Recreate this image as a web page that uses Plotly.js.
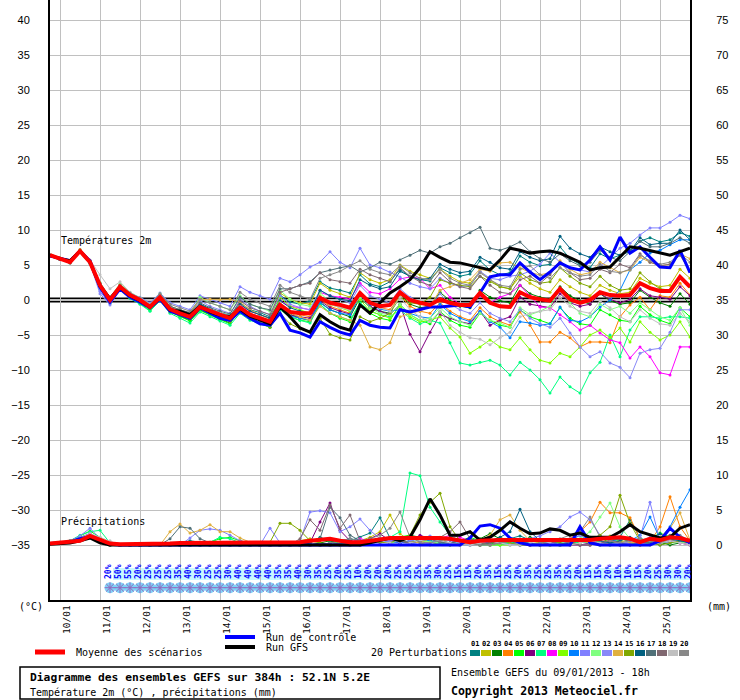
<!DOCTYPE html>
<html>
<head>
<meta charset="utf-8">
<script src="https://cdn.plot.ly/plotly-3.0.1.min.js"></script>
<style>
body{margin:0;background:#fff}
#plot{width:740px;height:700px}
</style>
</head>
<body>
<div id="plot"></div>
<script>
// time steps of the GEFS run, hours after 09/01 18h
var hours = [];
for (var h = 0; h <= 384; h += 6) hours.push(h);

var dayHours = [6, 30, 54, 78, 102, 126, 150, 174, 198, 222, 246, 270, 294, 318, 342, 366];
var dayLabels = ['10/01','11/01','12/01','13/01','14/01','15/01','16/01','17/01','18/01','19/01','20/01','21/01','22/01','23/01','24/01','25/01'];
var tempTicks = [-35,-30,-25,-20,-15,-10,-5,0,5,10,15,20,25,30,35,40];
var precTicks = [0,5,10,15,20,25,30,35,40,45,50,55,60,65,70,75];

var memberColors = ['#008080','#c0c000','#008000','#ff8000','#00ff00','#800080','#00ff80','#ff00ff','#80ff00','#0080ff',
                    '#8080ff','#80ff80','#8888f8','#e0b040','#80a800','#006080','#507078','#806870','#c0c0c0','#888888'];

// temperature 2m, 20 perturbations
var t01 = [6.4,5.9,5.5,7.1,5.5,2.4,0.3,2.0,0.9,0.2,-0.8,0.6,-1.1,-1.6,-2.1,-0.6,-1.3,-1.8,-2.2,-0.4,-1.4,-1.8,-2.4,0.7,-0.3,-0.6,-0.1,2.6,1.7,1.4,1.0,3.6,2.3,1.9,2.6,4.4,3.3,2.9,2.7,4.6,3.9,3.4,3.7,5.6,4.3,3.6,3.9,6.3,5.4,4.9,5.1,7.6,5.9,5.1,4.6,6.6,5.9,6.4,7.1,8.4,8.9,8.3,8.6,9.6,9.1];
var t02 = [6.3,5.8,5.3,6.9,5.3,2.0,-0.2,1.7,0.5,-0.2,-1.2,0.2,-1.5,-2.1,-2.6,-1.1,-1.9,-2.4,-2.9,-0.6,-1.6,-2.1,-2.7,1.0,0.1,-0.4,-0.6,2.4,1.4,0.9,0.4,3.9,2.9,2.4,2.9,5.0,4.1,3.6,3.1,4.4,3.4,2.6,2.4,4.1,2.9,1.9,1.6,3.4,2.4,1.6,1.1,2.9,1.9,1.1,0.6,2.1,1.4,0.9,1.1,3.1,2.4,1.9,2.1,4.4,3.1];
var t03 = [6.4,5.9,5.4,7.0,5.4,1.9,-0.2,1.7,0.4,-0.3,-1.3,0.1,-1.6,-2.3,-2.9,-1.4,-2.1,-2.7,-3.3,-1.1,-2.3,-2.9,-3.6,-0.9,-2.1,-2.6,-2.9,-0.3,-1.4,-1.9,-2.4,0.3,-1.1,-1.6,-1.9,0.9,-0.6,-1.1,-0.9,1.1,-0.1,-0.9,-1.1,1.4,0.4,-0.1,-0.4,2.1,0.9,0.4,0.1,1.9,0.6,-0.1,-0.6,0.9,-0.1,-0.6,-0.4,1.4,0.4,-0.4,-0.9,0.9,-0.6];
var t04 = [6.5,6.0,5.6,7.2,5.6,2.3,0.2,2.2,0.9,0.1,-0.9,0.6,-1.2,-1.8,-2.2,-0.8,-1.4,-1.9,-2.4,-0.9,-1.9,-2.4,-2.9,-0.6,-1.6,-2.1,-2.4,0.1,-0.9,-1.4,-1.9,0.9,-0.6,-1.1,-1.4,0.6,-0.9,-1.6,-1.9,-0.4,-1.6,-2.4,-2.9,-1.1,-2.4,-3.1,-3.6,-1.7,-3.6,-6.0,-6.0,-4.6,-5.4,-6.7,-6.0,-6.0,-6.1,-2.4,-0.7,0.4,-1.4,0.6,0.4,2.4,0.7];
var t05 = [6.4,5.8,5.4,7.1,5.3,1.8,-0.4,1.6,0.3,-0.5,-1.5,0.0,-1.7,-2.4,-3.0,-1.5,-2.2,-2.8,-3.4,-1.3,-2.6,-3.3,-3.9,-1.1,-2.4,-2.9,-3.1,-0.6,-1.9,-2.6,-3.1,-0.4,-1.9,-2.6,-2.9,-0.6,-2.1,-2.9,-3.4,-1.6,-2.9,-3.6,-3.9,-1.9,-2.9,-3.6,-3.9,-1.4,-2.4,-2.9,-3.4,-1.1,-2.6,-3.4,-3.6,-1.4,-2.1,-2.9,-3.1,-0.9,-2.1,-2.9,-3.4,-1.1,-2.4];
var t06 = [6.3,5.8,5.4,6.9,5.4,2.0,-0.1,1.8,0.5,-0.2,-1.1,0.3,-1.4,-2.0,-2.6,-1.2,-1.8,-2.3,-2.8,-1.3,-2.3,-2.9,-3.4,-1.0,-2.1,-2.4,-2.6,-0.1,-1.1,-1.6,-2.0,0.4,-0.9,-1.6,-2.1,-0.6,-4.9,-7.4,-4.6,-2.1,-2.6,-3.1,-3.4,-1.6,-3.6,-2.9,-2.4,0.4,-0.6,-0.9,-1.1,0.9,-0.4,-0.9,-0.6,0.9,0.1,-0.4,0.1,1.6,0.6,0.4,0.1,1.9,0.6];
var t07 = [6.4,5.8,5.3,6.9,5.2,1.7,-0.5,1.5,0.2,-0.6,-1.6,-0.1,-1.9,-2.6,-3.3,-1.7,-2.4,-3.0,-3.6,-1.9,-2.9,-3.4,-3.9,-1.4,-2.4,-2.9,-3.3,-0.6,-1.9,-2.4,-2.9,-0.4,-1.6,-2.1,-2.4,-1.4,-2.6,-3.4,-2.9,-3.3,-6.1,-9.0,-9.3,-8.9,-8.6,-9.3,-10.7,-8.9,-10.0,-11.4,-13.3,-11.0,-12.4,-13.3,-10.4,-8.9,-5.0,-8.1,-4.3,-2.4,-2.4,-2.6,-2.4,-2.4,-2.6];
var t08 = [6.4,5.9,5.5,7.0,5.5,2.1,0.1,2.0,0.8,0.1,-0.9,0.5,-1.1,-1.7,-2.2,-0.9,-1.5,-2.0,-2.4,-0.7,-1.6,-2.1,-2.6,-0.1,-0.9,-1.1,-1.4,1.1,0.6,0.4,0.1,2.4,1.1,0.9,1.6,3.0,3.3,3.1,1.6,2.1,0.4,-0.6,-0.9,0.6,-0.4,0.4,0.9,2.1,0.6,-1.0,-1.1,-2.1,-3.1,-4.3,-3.6,-4.7,-5.7,-6.1,-8.3,-6.7,-8.1,-10.4,-10.7,-6.7,-6.7];
var t09 = [6.5,6.0,5.6,7.1,5.6,2.3,0.1,2.1,0.8,0.0,-0.9,0.5,-1.2,-1.8,-2.3,-0.9,-1.6,-2.1,-2.7,-1.0,-2.0,-2.6,-3.1,0.4,-0.9,-1.4,-1.9,0.6,-0.6,-1.1,-1.6,0.1,-1.6,-2.1,-2.6,-0.9,-2.4,-3.1,-2.9,-2.4,-4.0,-5.3,-7.6,-6.7,-5.7,-6.7,-7.1,-5.4,-7.1,-8.6,-9.0,-7.6,-8.1,-6.7,-5.0,-4.3,-5.4,-4.0,-6.0,-3.1,-4.6,-5.7,-5.0,-3.1,-5.3];
var t10 = [6.3,5.8,5.4,6.9,5.4,2.0,-0.1,1.9,0.6,-0.1,-1.1,0.3,-1.4,-2.0,-2.5,-1.1,-1.7,-2.3,-2.7,-1.3,-2.4,-2.9,-3.4,-1.1,-2.3,-2.6,-2.9,-0.4,-1.4,-1.9,-2.1,0.6,-0.6,-1.3,-1.6,-1.4,-1.9,-2.4,-2.6,-0.6,-1.9,-2.6,-3.1,-1.6,-3.1,-3.9,-5.4,-3.1,-3.3,-3.6,-3.4,-1.0,-2.9,-3.1,-2.4,-1.0,0.0,1.4,4.3,5.4,6.7,7.1,7.9,8.6,8.6];
var t11 = [6.4,5.9,5.5,7.0,5.5,1.2,-0.5,1.9,0.9,0.4,-0.4,1.0,-0.4,-0.9,-1.4,0.6,0.1,-0.4,-0.9,1.9,1.1,0.6,0.1,3.1,2.6,3.6,4.7,5.4,6.9,5.4,4.6,7.4,5.0,4.6,4.0,3.3,2.4,1.9,1.6,3.1,2.4,1.9,2.1,4.1,3.1,2.9,3.4,3.6,4.1,5.1,6.7,5.4,4.6,4.3,4.0,4.7,6.1,7.4,8.1,9.3,10.3,10.3,11.1,12.1,11.6];
var t12 = [6.5,6.0,5.6,7.2,5.6,2.5,0.4,2.3,1.1,0.3,-0.6,0.9,-0.9,-1.4,-1.9,0.4,-0.4,-0.9,-1.4,0.6,-0.6,-1.1,-1.6,1.4,0.1,-0.6,-0.9,1.1,-0.4,-0.9,-1.4,0.4,-1.1,-1.9,-2.1,-0.6,-2.1,-2.9,-2.6,-1.1,-2.4,-3.1,-3.6,-1.9,-2.9,-3.3,-3.9,-1.1,-2.1,-1.6,-0.9,1.4,-0.4,-1.9,-2.4,-0.6,-1.4,-0.9,-1.9,-0.4,-1.4,-2.4,-2.9,-1.1,-3.6];
var t13 = [6.3,5.8,5.3,6.8,5.2,0.9,-0.7,1.6,0.6,0.0,-0.9,0.6,-0.9,-1.4,-1.9,-0.1,-0.9,-1.4,-1.9,0.1,-0.9,-1.6,-2.1,0.6,-0.6,-1.1,-1.4,1.4,0.6,0.1,-0.4,2.1,0.6,0.1,-0.4,1.6,0.4,-0.4,-0.9,0.9,-0.6,-1.4,-1.9,-0.4,-1.9,-2.6,-3.1,-1.4,-2.6,-3.4,-3.9,-2.6,-4.7,-6.7,-8.1,-7.4,-9.0,-9.6,-11.1,-7.6,-7.1,-6.9,-4.6,-1.4,-1.4];
var t14 = [6.4,5.9,5.4,7.0,5.5,2.2,0.2,2.0,0.9,0.2,-0.6,0.7,-0.9,-1.4,-1.9,0.1,0.1,0.0,0.1,-0.3,-1.4,-2.1,-2.6,-0.4,-1.9,-2.4,-2.9,-0.9,-1.9,-2.4,-2.9,-3.6,-6.7,-7.1,-6.1,-2.4,-1.9,-1.6,-0.9,1.4,1.9,2.4,2.9,4.4,4.1,5.3,5.4,4.6,3.9,3.6,3.9,5.6,4.4,3.6,3.9,5.4,4.6,3.9,4.3,6.1,5.4,4.9,5.1,6.6,5.9];
var t15 = [6.4,5.9,5.4,7.0,5.4,2.0,-0.2,1.8,0.5,-0.2,-1.1,0.2,-1.6,-2.1,-2.6,-1.1,-1.9,-2.6,-3.1,-1.4,-2.6,-3.3,-3.9,-1.9,-3.4,-4.1,-4.6,-2.6,-4.9,-5.4,-5.7,-2.4,-3.1,-2.6,-1.9,0.4,-0.4,-0.6,0.4,2.9,2.4,2.1,1.9,3.4,2.6,1.9,1.6,3.9,2.9,2.4,2.6,4.6,3.4,2.4,1.9,3.4,2.1,1.4,1.6,3.9,2.6,1.6,1.4,3.1,1.9];
var t16 = [6.4,5.9,5.5,7.0,5.4,2.1,0.1,1.9,0.7,0.0,-0.9,0.6,-1.1,-1.6,-2.1,-0.6,-1.3,-1.9,-2.4,-0.6,-1.6,-2.1,-2.6,-0.1,-1.1,-1.6,-1.9,1.4,0.6,0.1,-0.1,2.9,2.1,1.6,1.9,4.1,3.4,2.9,3.1,5.1,4.4,3.9,4.1,6.1,5.4,4.6,4.4,6.9,6.1,5.6,5.9,9.1,7.4,6.6,6.1,7.6,6.9,6.4,6.9,8.9,7.9,8.1,8.1,10.0,8.6];
var t17 = [6.4,5.9,5.4,7.0,5.4,2.3,0.3,2.1,0.8,0.2,-0.7,0.7,-0.9,-1.4,-1.8,-0.4,-1.1,-1.6,-2.0,0.4,-0.6,-1.1,-1.4,1.6,1.6,2.1,2.6,3.9,4.3,4.6,4.9,4.0,4.6,5.4,5.1,5.7,6.4,7.1,6.7,7.6,8.1,8.9,9.6,10.4,7.4,7.1,7.6,8.3,6.9,5.9,5.4,6.6,5.6,4.9,5.4,7.1,6.1,5.6,6.9,8.4,7.6,7.6,8.1,8.9,8.1];
var t18 = [6.4,5.9,5.5,7.0,5.5,2.2,0.1,1.9,0.8,0.1,-0.9,0.4,-1.2,-1.8,-2.3,-0.9,-1.5,-2.0,-2.4,-0.1,-1.1,-1.6,-2.1,1.1,1.6,2.1,2.4,3.9,2.9,2.6,2.4,4.4,3.6,3.1,2.6,4.6,3.4,2.6,2.1,3.9,2.6,1.9,1.6,3.4,2.1,1.1,0.9,2.9,3.4,2.4,3.6,5.4,3.9,2.9,3.1,4.4,3.9,5.1,4.6,6.6,5.4,4.9,5.1,6.4,4.1];
var t19 = [6.5,6.0,5.6,7.1,5.7,3.6,1.6,2.6,1.1,0.3,-0.6,0.6,-1.1,-1.6,-2.1,-0.9,-1.4,-1.9,-2.3,-0.9,-1.9,-2.4,-2.9,-0.4,-1.6,-1.9,-2.1,0.4,-0.6,-1.1,-1.4,1.1,-0.4,-1.1,-1.6,0.4,-1.4,-2.4,-3.1,-1.6,-3.6,-4.6,-5.4,-5.6,-6.4,-5.4,-4.6,-2.4,-1.9,-1.6,-1.4,0.4,-0.9,-1.6,-1.9,-0.1,-1.1,-2.4,-3.1,-1.4,-2.6,-3.4,-3.6,-1.9,-3.1];
var t20 = [6.4,5.9,5.5,7.0,5.5,2.4,0.4,2.1,1.0,0.3,-0.7,0.9,-0.6,-1.1,-1.6,0.1,-0.4,-0.9,-1.4,1.1,0.1,-0.4,-0.9,2.1,1.1,0.6,0.1,3.1,3.6,4.1,4.9,5.6,4.4,3.9,3.6,4.9,3.9,3.1,2.9,4.4,3.1,2.4,2.1,3.9,2.9,2.1,1.9,4.4,4.9,3.6,3.1,4.6,3.9,3.4,3.6,5.1,4.1,3.9,4.4,6.4,5.6,5.1,5.4,6.6,5.4];
// control run, GFS run, ensemble mean
var tControl = [6.3,5.9,5.6,7.0,5.6,1.8,-0.3,1.6,0.4,-0.3,-1.1,0.1,-1.6,-2.1,-2.6,-1.1,-1.9,-2.6,-2.9,-1.6,-2.6,-3.4,-3.6,-1.9,-4.3,-4.7,-5.3,-3.1,-3.9,-4.6,-5.0,-2.9,-3.6,-3.9,-4.0,-1.4,-1.7,-1.4,-1.0,-1.0,-0.9,-0.7,-1.0,1.0,3.3,3.6,3.6,5.3,4.0,2.9,4.0,5.3,4.6,4.3,5.7,7.6,5.7,9.0,6.7,7.6,6.1,4.7,4.6,7.1,3.9];
var tGfs = [6.4,5.9,5.6,7.0,5.4,2.0,0.2,1.8,0.6,-0.1,-1.0,0.3,-1.4,-1.6,-2.1,-0.9,-1.7,-2.2,-2.4,-1.3,-2.3,-2.9,-3.4,-1.0,-2.4,-4.0,-4.6,-2.1,-3.1,-3.9,-4.3,-0.7,-1.9,-0.4,1.0,1.9,2.9,4.6,6.9,6.1,5.4,5.3,5.0,4.6,4.3,5.7,7.4,7.1,6.7,6.9,7.0,6.7,6.1,5.4,4.3,4.6,4.7,6.1,7.6,7.4,7.1,6.7,6.4,6.9,7.4];
var tMean = [6.4,5.9,5.4,7.0,5.4,2.1,0.0,1.9,0.7,0.0,-1.0,0.4,-1.3,-1.9,-2.4,-1.0,-1.6,-2.1,-2.6,-1.1,-2.1,-2.6,-3.1,-0.7,-1.7,-1.9,-1.9,0.3,-0.4,-0.7,-1.1,1.0,-0.4,-0.9,-0.7,1.1,0.0,-0.4,-0.7,0.1,-0.4,-0.7,-0.7,1.0,-0.4,-0.9,-1.0,1.1,0.4,0.1,-0.1,1.6,0.1,-0.4,0.0,1.1,0.7,0.6,0.7,2.4,1.7,1.3,1.3,3.3,1.9];

// precipitation (mm per 6h), 20 perturbations
var p01 = [0.2,0.3,0.4,1.0,1.4,0.7,0.1,0,0,0, 0,0,0,0.3,0.6,0.4,0.3,0.1,0,0, 0,0,0,0,0,0,0.4,1.1,0.6,0.3, 0.6,1.1,1.7,3.9,1.0,0.4,0.3,0.6,0.9,0.4, 0.3,0,0,0.3,0.4,0.6,0.9,1.3,0.7,0.3, 0,0,0.3,0.6,0.3,0,0.4,1.1,3.6,1.0, 0.3,0,0.4,0.7,0.3];
var p02 = [0.1,0.3,0.4,0.8,1.2,0.5,0,0,0,0, 0,0,0,0,0.3,0.3,0,0,0,0, 0,0,0,0,0.3,0.6,0.9,0.4,0,0, 0.3,0.6,1.1,1.9,4.3,1.6,0.6,0.3,0,0.4, 0.9,0.4,0,0,0.6,1.1,0.6,0.3,0,0, 0.4,0.7,0.3,0,0,0.6,1.3,0.9,0.4,0, 0,0.6,1.4,0.7,0.3];
var p03 = [0.2,0.3,0.5,1.1,1.6,0.9,0.1,0,0,0, 0,0,0,0,0,0,0,0,0,0, 0,0,0,0,0,0,0,0.3,0.6,0.3, 0,0.4,0.9,0.6,0.3,0.9,1.4,1.1,0.6,0.3, 0,0,0.4,0.9,1.6,0.9,0.4,0.3,1.1,0.6, 0.3,0,0,0.4,0.9,0.4,0,0,0.3,0.6, 0.9,0.4,0,0.3,0];
var p04 = [0.2,0.3,0.4,0.9,1.3,0.6,0.1,0,0,0, 0,0,0,0,0,0,0.3,0.4,0.3,0, 0,0,0,0,0,0,0,0,0,0, 0,0.3,0.6,0.9,0.4,0.3,0.6,1.0,0.6,0.3, 0.3,0.6,0.4,0,0,0.3,0.6,0.4,0,0, 0.3,0.4,0.9,1.9,3.3,6.1,4.6,4.6,3.9,0.9, 0.4,2.6,6.9,2.6,0.6];
var p05 = [0.2,0.4,0.6,1.3,2.0,1.1,0.1,0,0,0, 0,0,0,0,0,0.3,0.4,0.9,1.1,0.6, 0.3,0,0,0,0,0,0,0,0,0.3, 0.6,0.3,0.4,0.6,0.9,1.1,1.4,0.9,0.6,0.3, 0.3,0.6,1.1,0.6,0.3,0,0.4,0.6,0.3,0, 0,0,0.3,0.6,0.4,0.3,0.9,0.6,0.3,0.4, 0.9,1.7,1.1,0.6,0.3];
var p06 = [0.2,0.3,0.4,0.9,1.3,0.6,0,0,0,0, 0,0,0,0,0,0,0,0,0,0, 0,0,0,0,0,0,0.3,3.3,6.0,2.1, 0.6,0.3,0.9,1.6,0.6,0.3,0.6,1.4,0.9,0.4, 0.3,0.6,0.3,0,0,0.4,0.3,0,0,0.3, 0.6,0.3,0,0,0.3,0.4,0.3,0,0,0, 0.3,0.6,0.9,0.4,0.3];
var p07 = [0.2,0.3,0.6,1.4,1.9,2.1,0.3,0,0,0, 0,0,0,0,0,0,0.4,1.1,0.9,0.3, 0,0,0,0,0,0,0,0,0,0, 0,0.3,0.6,0.9,1.1,1.9,10.3,9.9,5.4,3.3, 1.4,0.6,0.3,0,0,0,0.3,0.6,0.3,0, 0,0,0.3,0.4,0.3,0,0,0.3,0.6,0.9, 0.6,0.4,0.3,1.1,0.4];
var p08 = [0.2,0.3,0.4,1.0,1.6,0.9,0.1,0,0,0, 0,0,0,0,0,0,0,0,0,0, 0,0,0,0,0,0,0,0,0,0.3, 0.4,0.9,0.6,0.3,0.6,0.9,1.3,0.6,0.3,0.9, 1.4,1.1,0.6,0.3,0.4,0.9,0.6,0.3,0,0, 0.3,0.6,0.3,0,0,0.3,0.6,0.4,0.3,0, 0.4,0.9,0.6,0.3,0];
var p09 = [0.2,0.3,0.4,0.9,1.1,0.4,0,0,0,0, 0,0,0,0,0,0,0,0.3,0.3,0, 0,0,0,0,0,0,0,0,0,0, 0,0,0.3,0.6,0.9,0.6,0.3,0.6,0.4,0.3, 0,0.3,0.6,0.3,0,0,0,0.3,0.6,0.3, 0,0,0.3,0.6,0.9,0.4,0.3,0.6,0.3,0, 0.3,0.4,0.9,0.6,0.3];
var p10 = [0.1,0.3,0.4,0.9,1.3,0.6,0,0,0,0, 0,0,0,0,0,0,0,0,0,0, 0,0,0,0,0,0,0,0,0,0, 0,0,0.3,0.6,0.4,0.3,0.6,0.9,0.6,0.3, 0.3,0.6,0.9,0.4,0.3,0.6,0.3,0,0.4,0.9, 0.6,0.3,0.6,1.4,0.6,0.3,0.4,0.9,0.6,1.4, 4.0,0.9,2.6,5.4,7.9];
var p11 = [0.2,0.4,0.6,1.3,2.4,0.9,0.1,0,0,0, 0,0,0,0,1.0,2.1,2.3,2.1,1.4,0.6, 0.3,0,2.4,0.3,0,0.6,4.7,4.9,4.6,1.9, 2.6,3.7,2.1,0.9,0.4,0.6,0.3,0,0.3,0.6, 0.3,0,0,0.3,0.6,0.3,0,0.3,0.9,1.3, 1.9,2.6,4.0,4.7,3.6,1.4,0.6,0.3,0.4,1.1, 6.1,0.6,0.3,0.4,0.6];
var p12 = [0.2,0.3,0.4,0.9,1.4,0.6,0.1,0,0,0, 0,0,0,0,0,0,0,0,0,0, 0,0,0,0,0,0,0,0,0.3,0.3, 0,0.3,0.6,0.4,0.3,0.6,0.9,0.6,0.4,0.3, 0.3,0.4,0.3,0,0,0.3,0.6,0.4,0.3,0, 0,0.3,0.6,0.9,1.9,4.0,6.0,2.6,0.9,0.4, 0.3,0.6,0.3,0.4,0.3];
var p13 = [0.2,0.3,0.4,1.0,1.7,0.9,0.1,0,0,0, 0,0,0,0,0,0,0,0,0,0, 0,0,0,0,0,0,0,0,0,0, 0,0.3,0.6,0.9,0.6,0.4,0.6,0.9,1.3,0.9, 0.6,0.3,0,0,0.3,0.6,0.3,0,0,0.3, 0.6,0.4,0.9,1.4,0.9,0.6,0.3,0,0.3,0.6, 1.1,0.6,0.3,0.9,0.4];
var p14 = [0.2,0.3,0.4,0.9,1.3,0.6,0.1,0,0,0, 0,0,1.9,3.0,1.7,2.1,2.9,1.9,1.9,1.0, 0.4,0,0,0,0,0,0,0,0,0, 0,0,0.3,0.6,0.9,0.6,0.3,0.4,0.9,0.6, 0.3,0,0.3,0.6,1.4,3.6,4.3,2.1,0.6,0.3, 0,0,0.3,0.6,0.3,0,0.3,0.6,0.4,0.3, 0.6,1.1,2.4,4.6,0.7];
var p15 = [0.2,0.3,0.4,0.9,1.3,0.6,0,0,0,0, 0,0,0,0,0,0,0,0,0,0, 0,0,0.4,3.1,3.1,2.1,0.6,0.3,0,0, 0,0.3,0.6,0.4,0.3,0.9,1.4,4.3,6.1,7.4, 2.6,0.6,0.3,0,0.3,0.6,0.3,0,0,0.3, 0.6,0.3,0,0.3,0.9,1.4,2.6,7.1,3.1,0.6, 0.3,0,0.3,0.6,0.3];
var p16 = [0.2,0.3,0.4,0.9,1.2,0.6,0,0,0,0, 0,0,0,0,0,0,0,0,0,0, 0,0,0,0,0,0,0,0,0.3,0.6, 0.9,0.6,0.3,0.6,1.1,0.6,0.3,0.6,0.9,0.6, 0.3,0.6,0.9,0.4,0.6,1.1,1.9,5.1,1.9,0.6, 0.3,0,0.3,0.6,0.9,0.6,0.3,0.6,1.1,0.6, 0.9,1.6,0.9,0.6,0.3];
var p17 = [0.2,0.3,0.4,0.9,1.3,0.6,0,0,0,0, 0,0,0.9,2.6,2.4,0.9,0.3,0,0,0, 0,0,0,0,0,0,0.3,0.9,5.4,3.9, 1.4,0.6,0.3,0.6,0.9,0.6,0.3,0.6,0.9,0.4, 0.3,0.6,0.3,0,0.3,0.6,0.9,0.4,0.3,0, 0.3,0.6,0.3,0,0,0.3,0.6,0.9,0.6,0.3, 0.4,0.9,1.4,0.9,0.4];
var p18 = [0.2,0.3,0.4,0.9,1.3,0.6,0,0,0,0, 0,0,0,0,0,0,0,0,0,0, 0,0,0,0,0,0.9,3.6,2.1,5.7,2.4, 4.3,0.6,0.3,0.6,0.9,0.6,0.3,0.6,0.9,1.1, 1.9,3.3,0.9,0.3,0,0.3,0.6,0.3,0,0, 0.3,0.6,0.3,0,0,0.3,0.6,0.3,0,0.3, 0.6,0.3,0.6,0.9,0.4];
var p19 = [0.2,0.3,0.4,1.0,1.6,1.1,0.6,0,0,0, 0,0,0,0,0,0,0,0,0,0, 0,0,0,0,0,0,0,0,0,0, 0,0,0.3,0.6,0.3,0,0.3,0.6,0.9,0.6, 0.3,0,0,0.3,0.6,0.3,0,0,0.3,0.6, 0.3,0,0,0.3,0.6,0.3,0,0.3,0.6,0.3, 0,0.3,0.6,0.3,0];
var p20 = [0.2,0.3,0.4,0.9,1.3,0.6,0,0,0,0, 0,0,0,0,0,0,0,0,0,0, 0,0,0,0,0,0,0,0,0.3,0.6, 0.9,0.6,0.9,1.4,2.4,4.7,1.1,0.4,0.3,0.6, 0.9,0.6,0.3,0,0,0.3,0.6,0.3,0,0.3, 0.6,0.9,1.4,1.9,4.0,1.1,0.6,0.3,0.6,0.9, 0.6,0.3,0.9,1.4,0.6];
var pControl = [0.2,0.3,0.4,0.9,1.2,0.6,0.1,0,0,0, 0,0,0,0,0,0,0,0,0,0, 0,0,0,0,0,0,0,0,0,0, 0,0,0,0,0,0,0,0,0,0, 0,0,1.0,2.7,2.9,2.4,1.0,0.3,0,0, 0,0,0,2.6,0.3,0,0,0,0,0, 0,0.6,2.4,1.1,0.3];
var pGfs = [0.1,0.2,0.3,0.6,1.0,0.3,0,0,0,0, 0,0,0,0,0,0,0,0,0,0, 0,0,0,0,0,0,0,0,0,0, 0,0,0.3,0.6,1.0,0.6,1.1,3.6,6.6,4.3, 1.4,1.4,1.9,0.7,1.1,2.1,3.3,2.4,1.6,1.7, 2.3,2.1,1.4,1.7,1.1,1.1,1.1,1.9,2.9,1.9, 1.4,1.0,1.1,2.4,2.9];
var pMean = [0.2,0.3,0.4,0.6,1.3,0.7,0.2,0.1,0.1,0.1, 0.1,0.1,0.2,0.3,0.3,0.4,0.4,0.4,0.3,0.3, 0.3,0.3,0.4,0.4,0.4,0.4,0.6,0.7,0.9,0.6, 0.4,0.4,0.6,0.9,1.0,1.0,1.0,1.1,1.1,1.0, 0.9,0.6,0.4,0.6,0.7,0.7,0.7,0.7,0.6,0.7, 0.7,0.7,0.6,0.7,0.7,0.9,1.0,1.1,0.9,0.4, 0.9,0.7,1.1,1.0,0.6];

// probability strip, from 11/01 06h to the end of the run
var pct = [20,50,55,20,25,25,25,35,40,30,25,25,30,40,40,40,40,35,35,40,30,35,25,20,25,10,20,
           20,20,25,25,25,35,30,25,15,15,20,35,15,25,20,35,25,25,35,25,20,15,15,20,10,10,15,20,25,30,30,20];
var pctHours = hours.slice(6);

var tempMembers = [t01,t02,t03,t04,t05,t06,t07,t08,t09,t10,t11,t12,t13,t14,t15,t16,t17,t18,t19,t20];
var precMembers = [p01,p02,p03,p04,p05,p06,p07,p08,p09,p10,p11,p12,p13,p14,p15,p16,p17,p18,p19,p20];

var mono = 'DejaVu Sans Mono';

function memberTrace(y, color, axis) {
   return {
      x: hours, y: y, yaxis: axis,
      mode: 'lines+markers',
      line: {color: color, width: 1},
      marker: {color: color, size: 3},
      hoverinfo: 'skip'
   };
}
function runTrace(y, color, width, axis) {
   return {x: hours, y: y, yaxis: axis, mode: 'lines', line: {color: color, width: width}, hoverinfo: 'skip'};
}

var traces = [];
tempMembers.forEach(function(t, k) { traces.push(memberTrace(t, memberColors[k], 'y')); });
traces.push(runTrace(tControl, '#0000ff', 3, 'y'));
traces.push(runTrace(tGfs, '#000000', 3, 'y'));
traces.push(runTrace(tMean, '#ff0000', 4, 'y'));

// snow symbols under the percentages
var snowLevel = -41.1;
traces.push({x: pctHours, y: pctHours.map(function() { return snowLevel; }), yaxis: 'y', mode: 'markers',
   marker: {symbol: 'circle', size: 11, color: '#7fd3f7', line: {width: 0}}, hoverinfo: 'skip'});
traces.push({x: pctHours, y: pctHours.map(function() { return snowLevel; }), yaxis: 'y', mode: 'markers',
   marker: {symbol: 'asterisk-open', size: 9, line: {color: '#2f8fe0', width: 1}}, hoverinfo: 'skip'});

precMembers.forEach(function(p, k) { traces.push(memberTrace(p, memberColors[k], 'y2')); });
traces.push(runTrace(pControl, '#0000ff', 3, 'y2'));
traces.push(runTrace(pGfs, '#000000', 3, 'y2'));
traces.push(runTrace(pMean, '#ff0000', 4, 'y2'));

// pixel helpers for the decorations outside the plot area (plot is 640x600 at 50,0)
function px2x(px) { return (px - 50) / 640; }
function px2y(py) { return (600 - py) / 600; }

var annotations = [];
function addText(text, px, py, size, bold, anchor) {
   annotations.push({
      xref: 'paper', yref: 'paper', x: px2x(px), y: px2y(py),
      text: bold ? '<b>' + text + '</b>' : text,
      showarrow: false, xanchor: anchor || 'left', yanchor: 'middle',
      font: {family: mono, size: size, color: '#000'}
   });
}
addText('Températures 2m', 59, 241, 10);
addText('Précipitations', 59, 521, 10);
addText('(°C)', 31, 606, 10, false, 'center');
addText('(mm)', 719, 606, 10, false, 'center');
addText('Moyenne des scénarios', 74, 652, 10);
addText('Run de contrôle', 264, 637, 10);
addText('Run GFS', 264, 647, 10);
addText('20 Perturbations', 369, 652, 10);
addText('Diagramme des ensembles GEFS sur 384h : 52.1N 5.2E', 28, 677, 11.3, true);
addText('Température 2m (°C) , précipitations (mm)', 28, 692, 10);
addText('Ensemble GEFS du 09/01/2013 - 18h', 449, 672, 10);
addText('Copyright 2013 Meteociel.fr', 449, 691, 11.5, true);

pctHours.forEach(function(h, k) {
   annotations.push({
      xref: 'x', yref: 'paper', x: h, y: px2y(572), xshift: -2, xanchor: 'center', yanchor: 'middle',
      text: '<b>' + pct[k] + '%</b>', textangle: -90, showarrow: false,
      font: {family: mono, size: 8, color: '#0000ff'}
   });
});

var shapes = [
   {type: 'rect', xref: 'x', yref: 'paper', x0: 37.8, x1: 384, y0: px2y(580), y1: px2y(568),
      fillcolor: '#c8f8ff', line: {width: 0}, layer: 'between'},
   {type: 'line', xref: 'paper', yref: 'y', x0: 0, x1: 1, y0: 0, y1: 0, line: {color: '#000', width: 5}, layer: 'between'},
   {type: 'line', xref: 'paper', yref: 'y', x0: 0, x1: 1, y0: 0, y1: 0, line: {color: '#fff', width: 1.5}, layer: 'between'},
   {type: 'line', xref: 'paper', yref: 'paper', x0: px2x(35), x1: px2x(65), y0: px2y(652), y1: px2y(652), line: {color: '#ff0000', width: 5}},
   {type: 'line', xref: 'paper', yref: 'paper', x0: px2x(225), x1: px2x(255), y0: px2y(637), y1: px2y(637), line: {color: '#0000ff', width: 4}},
   {type: 'line', xref: 'paper', yref: 'paper', x0: px2x(225), x1: px2x(255), y0: px2y(647), y1: px2y(647), line: {color: '#000000', width: 4}},
   {type: 'rect', xref: 'paper', yref: 'paper', x0: px2x(20), x1: px2x(440), y0: px2y(699), y1: px2y(667), line: {color: '#000', width: 1.5}}
];
memberColors.forEach(function(c, k) {
   shapes.push({type: 'rect', xref: 'paper', yref: 'paper', x0: px2x(470 + 11 * k), x1: px2x(480 + 11 * k),
      y0: px2y(656), y1: px2y(650), fillcolor: c, line: {width: 0}});
   annotations.push({xref: 'paper', yref: 'paper', x: px2x(475 + 11 * k), y: px2y(644),
      xanchor: 'center', yanchor: 'middle', showarrow: false, borderpad: 0,
      text: '<b>' + (k < 9 ? '0' : '') + (k + 1) + '</b>', font: {family: mono, size: 7, color: '#000'}});
});

var layout = {
   width: 740, height: 700,
   margin: {l: 50, r: 50, t: 0, b: 100, pad: 0},
   paper_bgcolor: '#fff', plot_bgcolor: '#fff',
   showlegend: false, hovermode: false,
   xaxis: {
      range: [0, 384], tickvals: dayHours, ticktext: dayLabels, tickangle: -90,
      ticklabelshift: 7, ticklabelstandoff: 0,
      showgrid: true, gridcolor: '#c0c0c0', gridwidth: 1, zeroline: false,
      showline: true, linecolor: '#000', linewidth: 1.5, ticks: '',
      tickfont: {family: mono, size: 9.5, color: '#000'}
   },
   yaxis: {
      range: [-42.857, 42.857], tickvals: tempTicks,
      showgrid: true, gridcolor: '#c0c0c0', gridwidth: 1, zeroline: false,
      showline: true, linecolor: '#000', linewidth: 2, ticks: '', ticklabelstandoff: 16,
      tickfont: {family: 'Liberation Sans', size: 11, color: '#000'}
   },
   yaxis2: {
      overlaying: 'y', side: 'right', range: [-7.857, 77.857], tickvals: precTicks,
      showgrid: false, zeroline: false,
      showline: true, linecolor: '#000', linewidth: 2, ticks: '', ticklabelstandoff: 22,
      tickfont: {family: 'Liberation Sans', size: 11, color: '#000'}
   },
   shapes: shapes,
   annotations: annotations
};

Plotly.newPlot('plot', traces, layout, {staticPlot: true, displayModeBar: false});
</script>
</body>
</html>
